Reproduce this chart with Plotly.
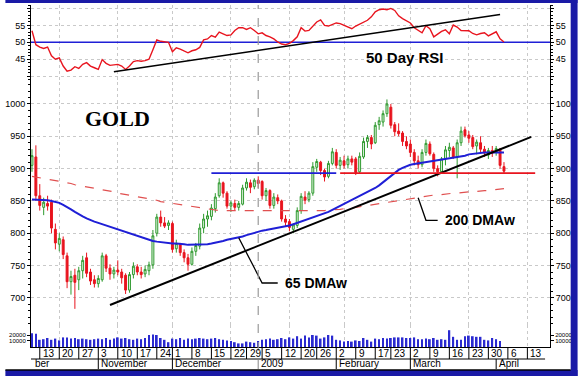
import pandas as pd
import plotly.graph_objects as go

# ---------------- calendar (trading days) ----------------
holidays = ["2008-11-27", "2008-12-25", "2009-01-01", "2009-01-19", "2009-02-16"]
calendar = [d.strftime("%Y-%m-%d") for d in
            pd.bdate_range("2008-10-09", "2009-04-24", freq="C", holidays=holidays)]
pos = {d: i for i, d in enumerate(calendar)}

# ---------------- data ----------------
opens = [905, 918, 858, 840, 846, 848, 806, 783, 790, 765,
         725, 735, 728, 742, 762, 740, 728, 722, 728, 765,
         746, 737, 743, 740, 735, 712, 736, 748, 740, 737,
         742, 751, 800, 825, 816, 812, 815, 776, 782, 770,
         762, 752, 772, 780, 808, 822, 826, 838, 858, 878,
         862, 842, 846, 840, 845, 870, 878, 872, 882, 880,
         858, 866, 843, 855, 850, 822, 818, 806, 812, 835,
         856, 852, 862, 902, 910, 897, 888, 908, 925, 905,
         912, 906, 915, 915, 895, 918, 942, 948, 940, 968,
         972, 985, 995, 968, 958, 955, 942, 938, 925, 912,
         906, 925, 938, 922, 900, 895, 915, 928, 932, 918,
         940, 960, 952, 948, 935, 940, 930, 921, 928, 925,
         930, 903]
highs = [930, 936, 876, 855, 858, 852, 815, 800, 795, 770,
         742, 745, 748, 765, 770, 745, 735, 735, 770, 768,
         752, 748, 758, 745, 738, 740, 755, 752, 748, 750,
         756, 805, 830, 835, 825, 820, 818, 790, 785, 775,
         768, 778, 785, 815, 830, 835, 845, 862, 885, 880,
         865, 850, 852, 850, 875, 885, 883, 885, 888, 882,
         870, 868, 862, 860, 852, 828, 822, 815, 840, 862,
         865, 865, 910, 915, 912, 900, 912, 932, 930, 918,
         920, 920, 920, 918, 925, 948, 952, 952, 972, 980,
         990, 1007, 1000, 972, 970, 958, 950, 945, 930, 920,
         930, 945, 942, 925, 905, 918, 935, 940, 935, 945,
         965, 965, 958, 952, 945, 950, 935, 932, 935, 935,
         932, 910]
lows = [895, 850, 835, 828, 835, 800, 775, 772, 760, 715,
        705, 683, 712, 730, 732, 720, 716, 716, 725, 740,
        728, 730, 735, 722, 706, 708, 730, 735, 730, 732,
        735, 745, 795, 810, 808, 805, 770, 770, 765, 755,
        742, 750, 765, 775, 800, 810, 820, 832, 855, 855,
        838, 833, 836, 835, 843, 866, 862, 868, 870, 852,
        850, 838, 838, 845, 818, 810, 803, 800, 808, 830,
        845, 848, 858, 895, 890, 880, 885, 905, 900, 898,
        900, 900, 905, 890, 892, 915, 932, 930, 938, 960,
        965, 980, 962, 950, 950, 935, 930, 918, 905, 900,
        902, 920, 920, 895, 888, 893, 905, 918, 915, 885,
        935, 948, 940, 930, 922, 925, 918, 915, 918, 920,
        900, 893]
closes = [920, 858, 843, 848, 842, 808, 785, 792, 767, 725,
          733, 724, 742, 758, 738, 726, 722, 730, 765, 746,
          737, 743, 740, 731, 712, 736, 749, 740, 736, 744,
          751, 796, 825, 816, 811, 816, 775, 784, 770, 762,
          752, 772, 781, 808, 822, 827, 839, 856, 878, 862,
          842, 847, 840, 846, 870, 879, 871, 882, 877, 858,
          866, 843, 856, 850, 822, 817, 809, 813, 835, 857,
          851, 862, 903, 911, 897, 887, 908, 926, 905, 913,
          905, 915, 910, 894, 919, 942, 948, 938, 967, 974,
          985, 1000, 967, 957, 954, 942, 935, 925, 912, 906,
          925, 939, 923, 900, 895, 915, 929, 933, 918, 940,
          958, 951, 947, 934, 941, 930, 924, 928, 924, 931,
          905, 896]
volumes = [23000, 22000, 12000, 13000, 15000, 12000, 14000, 11000, 16000, 16000,
           14000, 15000, 13000, 14000, 13000, 12000, 13000, 14000, 13000, 15000,
           12000, 14000, 16000, 14000, 15000, 13000, 12000, 14000, 13000, 15000,
           20000, 21000, 20000, 15000, 12000, 8000, 14000, 13000, 15000, 12000,
           14000, 13000, 14000, 15000, 14000, 13000, 14000, 15000, 13000, 12000,
           11000, 10000, 8000, 6000, 6000, 9000, 8000, 7000, 10000, 12000,
           13000, 14000, 12000, 13000, 15000, 13000, 16000, 14000, 18000, 14000,
           19000, 16000, 20000, 19000, 14000, 16000, 20000, 19000, 12000, 11000,
           9000, 10000, 9000, 11000, 10000, 15000, 12000, 9000, 14000, 13000,
           15000, 14000, 15000, 16000, 16000, 16000, 15000, 15000, 16000, 13000,
           13000, 14000, 13000, 15000, 12000, 13000, 12000, 28000, 17000, 12000,
           12000, 18000, 19000, 18000, 17000, 17000, 12000, 11000, 15000, 13000,
           10000, None]
rsi = [53.4, 49.3, 48.6, 48.2, 48.6, 46.0, 45.0, 45.4, 43.0, 41.5,
       41.8, 42.8, 42.3, 43.5, 44.0, 43.0, 42.5, 42.0, 44.9, 43.8,
       43.2, 43.4, 43.5, 43.0, 42.0, 43.0, 44.3, 44.6, 44.4, 44.6,
       45.0, 47.8, 50.7, 50.3, 50.1, 50.0, 47.2, 48.4, 48.0, 47.5,
       46.9, 47.5, 47.8, 48.5, 50.7, 51.0, 52.0, 51.5, 53.0, 52.5,
       52.0, 52.2, 53.5, 54.3, 54.3, 53.8, 54.3, 53.5, 52.5, 52.8,
       52.0, 51.6, 51.0, 50.1, 49.5, 49.3, 49.7, 50.5, 51.6, 54.3,
       53.3, 53.5, 54.8, 56.0, 56.6, 55.0, 54.8, 55.3, 55.7, 55.5,
       55.0, 54.5, 54.0, 54.8, 55.3, 55.8, 56.5, 57.5, 59.0, 59.6,
       59.8, 59.6, 60.0, 59.4, 57.8, 57.0, 56.3, 55.7, 54.3, 53.5,
       52.8, 54.9, 54.0, 51.6, 52.5, 53.2, 53.7, 52.5, 55.1, 54.5,
       53.5, 53.4, 53.4, 52.6, 52.2, 52.6, 52.8, 51.9, 52.5, 53.1,
       51.0, 50.1]
dma65 = [852, 852, 852, 852, 851, 850, 849, 847, 844, 841,
         837, 833, 829, 826, 823, 820, 818, 816, 814, 812,
         810, 808, 806, 804, 802, 800, 798, 796, 794, 792,
         789, 788, 787, 786, 785, 785, 784, 784, 784, 783,
         782, 782, 782, 782, 782, 783, 784, 785, 787, 788,
         790, 791, 792, 794, 795, 797, 799, 801, 803, 804,
         805, 806, 808, 809, 810, 811, 812, 814, 816, 818,
         820, 822, 824, 826, 828, 830, 833, 836, 839, 842,
         845, 848, 851, 854, 857, 860, 863, 866, 870, 874,
         879, 884, 889, 894, 898, 901, 904, 906, 907, 908,
         909, 910, 911, 912, 913, 914, 914, 915, 916, 917,
         919, 920, 922, 923, 924, 925, 925, 925, 925, 925,
         925, 925]
dma200 = [888, 887, 886, 884, 883, 882, 881, 880, 879, 878,
          877, 875, 874, 873, 872, 871, 870, 868, 867, 866,
          865, 864, 862, 861, 860, 859, 858, 857, 855, 854,
          853, 852, 851, 849, 848, 847, 846, 845, 844, 843,
          842, 841, 840, 839, 838, 837, 836, 836, 835, 835,
          835, 835, 834, 834, 834, 834, 834, 834, 834, 834,
          834, 834, 834, 834, 834, 834, 834, 834, 834, 834,
          834, 834, 835, 835, 835, 835, 836, 836, 837, 837,
          838, 838, 839, 840, 841, 842, 843, 844, 845, 846,
          847, 848, 849, 850, 851, 852, 853, 854, 855, 856,
          857, 857, 858, 859, 859, 860, 861, 861, 862, 862,
          863, 863, 864, 864, 865, 865, 866, 866, 867, 867,
          868, 869]

# drawn lines (date, value)
rsi_trend = (["2008-11-07", "2009-04-02"], [41.3, 58.2])
support_trend = (["2008-11-06", "2009-04-14"], [689, 949])
resistance_blue = (["2008-12-15", "2009-02-02"], [893, 893])
support_red = (["2009-02-03", "2009-04-15"], [893, 893])
callout65 = (["2008-12-24", "2009-01-05", "2009-01-09"], [793, 723, 723])
callout200 = (["2009-03-04", "2009-03-06", "2009-03-11"], [855, 820, 820])

week_ticks = ["2008-10-13", "2008-10-20", "2008-10-27", "2008-11-03", "2008-11-10",
              "2008-11-17", "2008-11-24", "2008-12-01", "2008-12-08", "2008-12-15",
              "2008-12-22", "2008-12-29", "2009-01-05", "2009-01-12", "2009-01-20",
              "2009-01-26", "2009-02-02", "2009-02-09", "2009-02-17", "2009-02-23",
              "2009-03-02", "2009-03-09", "2009-03-16", "2009-03-23", "2009-03-30",
              "2009-04-06", "2009-04-13"]
week_labels = ["13", "20", "27", "3", "10", "17", "24", "1", "8", "15", "22", "29",
               "5", "12", "20", "26", "2", "9", "17", "23", "2", "9", "16", "23",
               "30", "6", "13"]
month_starts = ["2008-10-09", "2008-11-03", "2008-12-01", "2009-01-02",
                "2009-02-02", "2009-03-02", "2009-04-01"]
month_labels = ["ber", "November", "December", "2009", "February", "March", "April"]
grid_dates = ["2008-10-20", "2008-11-10", "2008-12-01", "2008-12-22",
              "2009-01-14", "2009-02-04", "2009-03-02", "2009-03-23", "2009-04-13"]

price_ticks = [700, 750, 800, 850, 900, 950, 1000]
rsi_ticks = [40, 45, 50, 55, 60]
rsi_labels = ["", "45", "50", "55", ""]
vol_ticks = [10000, 20000]
vol_labels = ["10000", "20000"]

# ---------------- figure ----------------
n = len(closes)
xi = [pos[d] for d in calendar[:n]]
P = lambda ds: [pos[d] for d in ds]

FONT = "Liberation Sans"
BLUE = "#1f1fd6"
RED = "#e8141e"
GRID = "#c9c9c9"

fig = go.Figure()

# volume
fig.add_trace(go.Bar(x=xi, y=volumes, yaxis="y", marker=dict(color="#2a2ad0", line=dict(width=0)),
                     width=0.45, hoverinfo="skip"))
# price
fig.add_trace(go.Scatter(x=xi, y=dma200, yaxis="y2", mode="lines",
                         line=dict(color="#e05050", width=1.2, dash="dash")))
fig.add_trace(go.Candlestick(x=xi, open=opens, high=highs, low=lows, close=closes, yaxis="y2",
                             increasing=dict(line=dict(color="#2f9a2f", width=1), fillcolor="#e4f4e4"),
                             decreasing=dict(line=dict(color=RED, width=1), fillcolor=RED),
                             whiskerwidth=0, hoverinfo="skip"))
fig.add_trace(go.Scatter(x=xi, y=dma65, yaxis="y2", mode="lines", line=dict(color=BLUE, width=2)))
fig.add_trace(go.Scatter(x=P(support_trend[0]), y=support_trend[1], yaxis="y2", mode="lines",
                         line=dict(color="black", width=2)))
fig.add_trace(go.Scatter(x=P(resistance_blue[0]), y=resistance_blue[1], yaxis="y2", mode="lines",
                         line=dict(color=BLUE, width=1.6)))
fig.add_trace(go.Scatter(x=P(support_red[0]), y=support_red[1], yaxis="y2", mode="lines",
                         line=dict(color=RED, width=1.6)))
fig.add_trace(go.Scatter(x=P(callout65[0]), y=callout65[1], yaxis="y2", mode="lines",
                         line=dict(color="black", width=1.3)))
fig.add_trace(go.Scatter(x=P(callout200[0]), y=callout200[1], yaxis="y2", mode="lines",
                         line=dict(color="black", width=1.3)))
# RSI
fig.add_trace(go.Scatter(x=[-1, 140], y=[50, 50], yaxis="y3", mode="lines",
                         line=dict(color=BLUE, width=1.4)))
fig.add_trace(go.Scatter(x=xi, y=rsi, yaxis="y3", mode="lines", line=dict(color=RED, width=1.4)))
fig.add_trace(go.Scatter(x=P(rsi_trend[0]), y=rsi_trend[1], yaxis="y3", mode="lines",
                         line=dict(color="black", width=1.5)))
# invisible traces for right axes
for ax in ["y4", "y5", "y6"]:
    fig.add_trace(go.Scatter(x=[None], y=[None], yaxis=ax, mode="lines"))

tickfont = dict(family=FONT, size=9, color="black")
common_y = dict(showgrid=True, gridcolor=GRID, griddash="dot", gridwidth=1, zeroline=False,
                showline=True, linecolor="black", linewidth=1, ticks="outside", ticklen=3,
                tickcolor="black", tickfont=tickfont, fixedrange=True)

D_VOL = [0, 0.0643]
D_PRICE = [0.0643, 0.7749]
D_RSI = [0.7749, 1]
R_VOL = [0, 36667]
R_PRICE = [658, 1034]
R_RSI = [38.3, 61.0]

fig.update_layout(
    width=581, height=376,
    margin=dict(l=26, r=28, t=5, b=29),
    paper_bgcolor="white", plot_bgcolor="white",
    showlegend=False,
    xaxis=dict(range=[-0.25, 132.8], tickvals=P(grid_dates), showticklabels=False,
               showgrid=True, gridcolor=GRID, griddash="dot", zeroline=False,
               showline=True, linecolor="black", ticks="", anchor="y",
               rangeslider=dict(visible=False), fixedrange=True),
    yaxis=dict(domain=D_VOL, range=R_VOL, tickvals=vol_ticks, ticktext=vol_labels,
               **{**common_y, "tickfont": dict(family=FONT, size=6, color="black"), "showgrid": False}),
    yaxis2=dict(domain=D_PRICE, range=R_PRICE, tickvals=price_ticks,
                minor=dict(dtick=10, ticks="outside", ticklen=2, tickcolor="black", showgrid=False),
                **common_y),
    yaxis3=dict(domain=D_RSI, range=R_RSI, tickvals=rsi_ticks, ticktext=rsi_labels,
                minor=dict(dtick=1, ticks="outside", ticklen=2, tickcolor="black", showgrid=False),
                **common_y),
    yaxis4=dict(overlaying="y", side="right", anchor="x", range=R_VOL, tickvals=vol_ticks,
                ticktext=vol_labels,
                **{**common_y, "tickfont": dict(family=FONT, size=6, color="black"), "showgrid": False}),
    yaxis5=dict(overlaying="y2", side="right", anchor="x", range=R_PRICE, tickvals=price_ticks,
                minor=dict(dtick=10, ticks="outside", ticklen=2, tickcolor="black", showgrid=False),
                **{**common_y, "showgrid": False}),
    yaxis6=dict(overlaying="y3", side="right", anchor="x", range=R_RSI, tickvals=rsi_ticks,
                ticktext=rsi_labels,
                minor=dict(dtick=1, ticks="outside", ticklen=2, tickcolor="black", showgrid=False),
                **{**common_y, "showgrid": False}),
)

def yp(ypix):
    return (347 - ypix) / 342.0

def xp(xpix):
    return (xpix - 26) / 527.0

shapes = []
# year separator
shapes.append(dict(type="line", xref="x", yref="paper", x0=pos["2009-01-02"], x1=pos["2009-01-02"],
                   y0=yp(369), y1=1, line=dict(color="#9a9a9a", width=1.2, dash="dash")))
# label row boxes
shapes.append(dict(type="line", xref="paper", yref="paper", x0=0, x1=xp(548), y0=yp(359), y1=yp(359),
                   line=dict(color="black", width=1)))
for d in week_ticks:
    shapes.append(dict(type="line", xref="x", yref="paper", x0=pos[d], x1=pos[d], y0=0, y1=yp(359),
                       line=dict(color="black", width=1)))
for d in month_starts[1:]:
    if d == "2009-01-02":
        continue
    shapes.append(dict(type="line", xref="x", yref="paper", x0=pos[d], x1=pos[d], y0=yp(359), y1=yp(369),
                       line=dict(color="black", width=1)))
# frame
FRAME = "#1a1aa6"
shapes.append(dict(type="rect", xref="paper", yref="paper", x0=xp(0), x1=xp(581), y0=yp(3), y1=yp(0),
                   fillcolor=FRAME, line=dict(width=0)))
shapes.append(dict(type="rect", xref="paper", yref="paper", x0=xp(574), x1=xp(581), y0=yp(376), y1=yp(0),
                   fillcolor=FRAME, line=dict(width=0)))
shapes.append(dict(type="rect", xref="paper", yref="paper", x0=xp(0), x1=xp(581), y0=yp(376), y1=yp(370),
                   fillcolor=FRAME, line=dict(width=0)))
shapes.append(dict(type="line", xref="paper", yref="paper", x0=xp(0), x1=xp(574), y0=yp(370), y1=yp(370),
                   line=dict(color="black", width=1.5)))
fig.update_layout(shapes=shapes)

ann = []
for d, lab in zip(week_ticks, week_labels):
    ann.append(dict(x=pos[d], y=yp(353.5), xref="x", yref="paper", text=lab, showarrow=False,
                    xanchor="left", yanchor="middle", xshift=1,
                    font=dict(family=FONT, size=10, color="black")))
for d, lab in zip(month_starts, month_labels):
    ann.append(dict(x=pos[d], y=yp(363.5), xref="x", yref="paper", text=lab, showarrow=False,
                    xanchor="left", yanchor="middle", xshift=1,
                    font=dict(family=FONT, size=10, color="black")))
ann.append(dict(x=22, y=978, xref="x", yref="y2", text="<b>GOLD</b>", showarrow=False,
                font=dict(family="Liberation Serif", size=22, color="black")))
ann.append(dict(x=95.7, y=45.4, xref="x", yref="y3", text="<b>50 Day RSI</b>", showarrow=False,
                font=dict(family=FONT, size=15, color="black")))
ann.append(dict(x=pos["2009-01-09"], y=723, xref="x", yref="y2", text="<b>65 DMAw</b>", showarrow=False,
                xanchor="left", xshift=5, font=dict(family=FONT, size=14, color="black")))
ann.append(dict(x=pos["2009-03-11"], y=820, xref="x", yref="y2", text="<b>200 DMAw</b>", showarrow=False,
                xanchor="left", xshift=5, font=dict(family=FONT, size=14, color="black")))
fig.update_layout(annotations=ann)

fig.write_html("out.html", config={"displayModeBar": False},
               post_script="document.body.style.margin='0';document.body.style.overflow='hidden';")
